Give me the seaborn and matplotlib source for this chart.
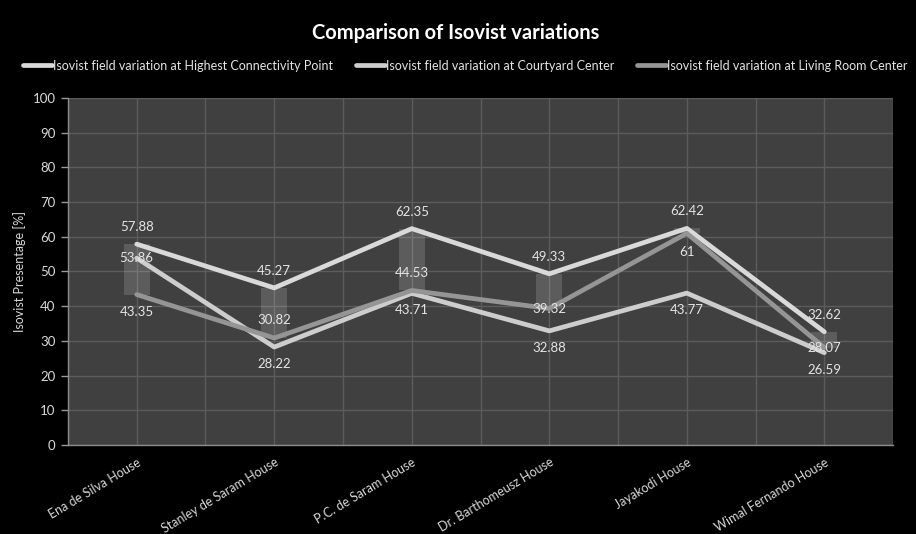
import matplotlib
matplotlib.use("Agg")
import matplotlib.pyplot as plt
import seaborn as sns
import pandas as pd
import numpy as np
from matplotlib.lines import Line2D

houses = ["Ena de Silva House", "Stanley de Saram House", "P.C. de Saram House",
          "Dr. Barthomeusz House", "Jayakodi House", "Wimal Fernando House"]
series_names = ["Isovist field variation at Highest Connectivity Point",
                "Isovist field variation at Courtyard Center",
                "Isovist field variation at Living Room Center"]
highest_conn = [57.88, 45.27, 62.35, 49.33, 62.42, 32.62]
courtyard = [53.86, 28.22, 43.71, 32.88, 43.77, 26.59]
living_room = [43.35, 30.82, 44.53, 39.32, 61, 28.07]
label_texts = [["57.88", "45.27", "62.35", "49.33", "62.42", "32.62"],
               ["53.86", "28.22", "43.71", "32.88", "43.77", "26.59"],
               ["43.35", "30.82", "44.53", "39.32", "61", "28.07"]]

# label offsets in pixels (style only)
label_offsets = [[17, 17, 17, 17, 17, 17],
                 [0, -17, -17, -17, -17, -17],
                 [-17, 18, 17, 0, -19, 0]]

sns.set_theme(style="dark")
plt.rcParams['font.family'] = ['Lato', 'DejaVu Sans']

fig = plt.figure(figsize=(9.16, 5.34), dpi=100, facecolor="black")
ax = fig.add_axes([0.0742, 0.1667, 0.9008, 0.6498])
ax.set_facecolor("#404040")

series_vals = [highest_conn, courtyard, living_room]
rows = []
for name, vals in zip(series_names, series_vals):
    for i, v in enumerate(vals):
        rows.append({"pos": i, "house": houses[i], "series": name, "value": v})
df = pd.DataFrame(rows)

colors = ["#d9d9d9", "#cdcdcd", "#959595"]

# up-down bars between first and last series
hc = np.array(highest_conn)
lr = np.array(living_room)
ax.bar(np.arange(len(houses)), np.abs(hc - lr), bottom=np.minimum(hc, lr),
       width=0.19, color="white", alpha=0.15, zorder=2, linewidth=0)

sns.lineplot(data=df, x="pos", y="value", hue="series", palette=colors,
             hue_order=series_names, ax=ax, linewidth=3.4, legend=False,
             zorder=3)
for ln in ax.get_lines():
    ln.set_solid_capstyle("round")

for s, vals in enumerate(series_vals):
    for i, v in enumerate(vals):
        ax.annotate(label_texts[s][i], (i, v), xytext=(0, label_offsets[s][i]),
                    textcoords="offset pixels", ha="center", va="center",
                    fontsize=9.5, color="#e4e4e4", zorder=5)

ax.set_xlim(-0.5, len(houses) - 0.5)
ax.set_ylim(0, 100)
ax.set_yticks(np.arange(0, 101, 10))
ax.set_yticklabels([str(t) for t in range(0, 101, 10)], fontsize=9.5, color="#d9d9d9")
ax.set_xticks(np.arange(len(houses)))
ax.set_xticklabels(houses, rotation=31, ha="right", rotation_mode="anchor",
                   fontsize=9, color="#d9d9d9")
ax.set_xticks(np.arange(-0.5, len(houses), 1.0), minor=True)
ax.tick_params(axis="x", which="major", length=0, pad=8)
ax.tick_params(axis="x", which="minor", length=5, color="#9a9a9a", width=1, direction="out")
ax.tick_params(axis="y", length=5, color="#9a9a9a", width=1, direction="out", pad=4, left=True)

ax.grid(True, which="both", axis="x", color="#5c5c5c", linewidth=1)
ax.grid(True, which="major", axis="y", color="#5c5c5c", linewidth=1)
ax.set_axisbelow(True)

for side in ["top", "right"]:
    ax.spines[side].set_visible(False)
for side in ["left", "bottom"]:
    ax.spines[side].set_visible(True)
    ax.spines[side].set_color("#8c8c8c")
    ax.spines[side].set_linewidth(1)

ax.set_xlabel("")
ax.set_ylabel("Isovist Presentage [%]", fontsize=9, color="#d9d9d9", labelpad=5)

fig.text(0.497, 0.938, "Comparison of Isovist variations", ha="center", va="center",
         fontsize=14.5, fontweight="bold", color="white")

handles = [Line2D([0], [0], color=c, linewidth=3.4, solid_capstyle="round") for c in colors]
leg = fig.legend(handles, series_names, loc="center", bbox_to_anchor=(0.508, 0.877),
                 ncol=3, frameon=False, fontsize=9.0, handlelength=2.3,
                 handletextpad=0.1, columnspacing=1.8, labelcolor="#e4e4e4")

fig.savefig("out.png", dpi=100, facecolor="black")
